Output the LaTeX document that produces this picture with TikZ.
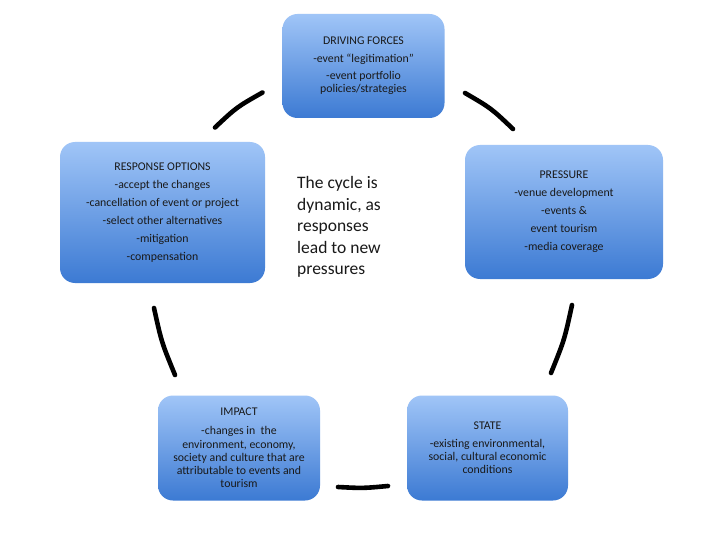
\documentclass[tikz,border=0pt]{standalone}
\usepackage{fontspec}
\setmainfont{Carlito}
\definecolor{boxtop}{RGB}{160,197,247}
\definecolor{boxbot}{RGB}{60,122,211}
\definecolor{txt}{RGB}{25,25,25}
\begin{document}
\begin{tikzpicture}[x=1pt,y=-1pt,
  box/.style={rounded corners=15pt, top color=boxtop, bottom color=boxbot,
    draw=none, align=center, text=txt, inner sep=0pt,
    font=\fontsize{11.8}{13.2}\selectfont},
  cyc/.style={line width=4.6pt, line cap=round, black}]
\useasboundingbox[fill=white] (0,0) rectangle (720,540);
\node[box, minimum width=162pt, minimum height=104pt] (df) at (363.5,66)
  {DRIVING FORCES\\[4.5pt]-event “legitimation”\\[4pt]-event portfolio\\policies/strategies};
\node[box, minimum width=205pt, minimum height=141pt] (ro) at (162.5,212.5)
  {RESPONSE OPTIONS\\[4.8pt]-accept the changes\\[4.8pt]-cancellation of event or project\\[4.8pt]-select other alternatives\\[4.8pt]-mitigation\\[4.8pt]-compensation};
\node[box, minimum width=198pt, minimum height=134pt] (pr) at (564,212)
  {PRESSURE\\[4.8pt]-venue development\\[4.8pt]-events \&\\[4.8pt]event tourism\\[4.8pt]-media coverage};
\node[box, minimum width=162pt, minimum height=105pt] (im) at (239,448)
  {IMPACT\\[5.8pt]-changes in\ \ the\\environment, economy,\\society and culture that are\\attributable to events and\\tourism};
\node[box, minimum width=161pt, minimum height=105pt] (st) at (487.5,448)
  {STATE\\[4.8pt]-existing environmental,\\social, cultural economic\\conditions};
\node[anchor=north west, inner sep=0pt, align=left, text=txt,
  font=\fontsize{17.5}{21.4}\selectfont] (note) at (297,176.5)
  {The cycle is\\dynamic, as\\responses\\lead to new\\pressures};
\coordinate (a1) at (215,127.5);
\coordinate (a2) at (262.5,92.5);
\coordinate (b1) at (465,93);
\coordinate (b2) at (513,129);
\coordinate (c1) at (572,305);
\coordinate (c2) at (551,373);
\coordinate (d1) at (388,486);
\coordinate (d2) at (338,487);
\coordinate (e1) at (175,375);
\coordinate (e2) at (154,308);
\draw[cyc] (a1) .. controls (236.6,107.2) .. (a2);
\draw[cyc] (b1) .. controls (491.1,108.2) .. (b2);
\draw[cyc] (c1) .. controls (564.4,339.9) .. (c2);
\draw[cyc] (d1) .. controls (363,488.3) .. (d2);
\draw[cyc] (e1) .. controls (161.6,342.4) .. (e2);
\end{tikzpicture}
\end{document}
